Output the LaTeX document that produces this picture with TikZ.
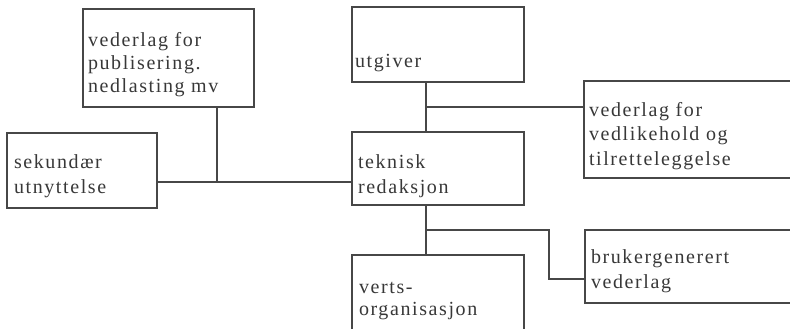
\documentclass[tikz,border=0pt]{standalone}
\usepackage{fontspec}
\setmainfont{Liberation Serif}[LetterSpace=8]
\newcommand{\boxlines}[1]{\begin{tabular}[t]{@{}l@{}}#1\end{tabular}}
\begin{document}
\begin{tikzpicture}[x=1pt,y=-1pt,
  frame/.style={draw=black!72, line width=1.5pt, anchor=north west, inner sep=0pt, outer sep=0pt},
  boxlabel/.style={anchor=base west, inner sep=0pt, outer sep=0pt, text=black!78, font=\fontsize{20}{24}\selectfont},
  link/.style={draw=black!72, line width=1.5pt}]
\path[use as bounding box, fill=white] (0,0) rectangle (790,329);
\clip (0,0) rectangle (790,329);
% boxes
\node[frame, minimum width=171pt, minimum height=98pt] (pub) at (83,9) {};
\node[frame, minimum width=150pt, minimum height=75pt] (sek) at (7,133) {};
\node[frame, minimum width=172pt, minimum height=75pt] (utg) at (352,7) {};
\node[frame, minimum width=172pt, minimum height=73pt] (tek) at (352,132) {};
\node[frame, minimum width=230pt, minimum height=97pt] (ved) at (584,81) {};
\node[frame, minimum width=172pt, minimum height=100pt] (ver) at (352,255) {};
\node[frame, minimum width=230pt, minimum height=73pt] (bru) at (585,230) {};
% texts
\node[boxlabel, font=\fontsize{20}{23}\selectfont] (pubtext) at (88,47) {\boxlines{vederlag for\\publisering.\\nedlasting mv}};
\node[boxlabel, font=\fontsize{20}{25}\selectfont] (sektext) at (14,168) {\boxlines{sekundær\\utnyttelse}};
\node[boxlabel] (utgtext) at (355,68) {\boxlines{utgiver}};
\node[boxlabel, font=\fontsize{20}{25}\selectfont] (tektext) at (358,168) {\boxlines{teknisk\\redaksjon}};
\node[boxlabel] (vedtext) at (589,117) {\boxlines{vederlag for\\vedlikehold og\\tilretteleggelse}};
\node[boxlabel, font=\fontsize{20}{22}\selectfont] (vertext) at (359,293) {\boxlines{verts-\\organisasjon}};
\node[boxlabel, font=\fontsize{20}{25}\selectfont] (brutext) at (591,263) {\boxlines{brukergenerert\\vederlag}};
% junctions
\coordinate (j1) at (217,182);
\coordinate (j2) at (426,107);
\coordinate (j3) at (426,230);
\coordinate (j4) at (549,230);
\coordinate (j5) at (549,279);
% connectors
\draw[link] (sek.east |- j1) -- (tek.west |- j1);
\draw[link] (pub.south -| j1) -- (j1);
\draw[link] (utg.south -| j2) -- (tek.north -| j2);
\draw[link] (j2) -- (ved.west |- j2);
\draw[link] (tek.south -| j3) -- (ver.north -| j3);
\draw[link] (j3) -- (j4) -- (j5) -- (bru.west |- j5);
\end{tikzpicture}
\end{document}
